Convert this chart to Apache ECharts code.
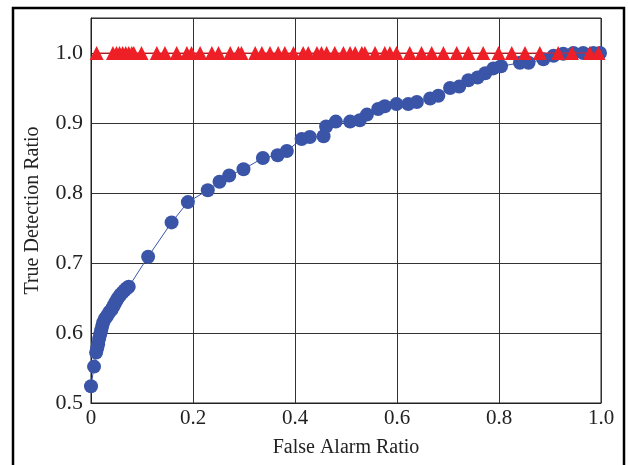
<!DOCTYPE html>
<html>
<head>
<meta charset="utf-8">
<script src="https://cdn.jsdelivr.net/npm/echarts@6/dist/echarts.min.js"></script>
<style>
  html, body { margin: 0; padding: 0; background: #fff; }
  #chart { width: 628px; height: 465px; }
</style>
</head>
<body>
<div id="chart"></div>
<script>
// blue curve: false alarm ratio / true detection ratio
var blueX = [0.000, 0.006, 0.010, 0.012, 0.014, 0.016, 0.018, 0.020, 0.022, 0.024, 0.027, 0.030,
  0.033, 0.036, 0.040, 0.043, 0.046, 0.049, 0.052, 0.055, 0.058, 0.062, 0.066, 0.070, 0.074,
  0.112, 0.158, 0.190, 0.229, 0.252, 0.271, 0.299, 0.337, 0.366, 0.384, 0.413, 0.429, 0.456,
  0.461, 0.480, 0.508, 0.527, 0.541, 0.563, 0.576, 0.599, 0.622, 0.639, 0.665, 0.681, 0.704,
  0.722, 0.740, 0.758, 0.773, 0.789, 0.804, 0.841, 0.858, 0.887, 0.907, 0.926, 0.946, 0.965,
  0.985, 0.998]
var blueY = [0.524, 0.552, 0.572, 0.578, 0.584, 0.592, 0.598, 0.604, 0.610, 0.615, 0.620, 0.623,
  0.626, 0.630, 0.633, 0.637, 0.641, 0.645, 0.649, 0.652, 0.655, 0.658, 0.661, 0.664, 0.666,
  0.709, 0.758, 0.787, 0.804, 0.816, 0.825, 0.834, 0.850, 0.854, 0.860, 0.877, 0.880, 0.881,
  0.895, 0.902, 0.902, 0.904, 0.912, 0.920, 0.924, 0.927, 0.927, 0.930, 0.935, 0.939, 0.950,
  0.952, 0.961, 0.965, 0.971, 0.978, 0.981, 0.986, 0.986, 0.991, 0.996, 0.999, 1.000, 1.000,
  1.000, 1.000]

// red triangles, all at 1.0
var redX = [0.011, 0.043, 0.050, 0.056, 0.062, 0.068, 0.074, 0.080, 0.084, 0.099, 0.129, 0.145,
  0.168, 0.188, 0.197, 0.214, 0.237, 0.250, 0.273, 0.289, 0.295, 0.322, 0.335, 0.351, 0.367,
  0.380, 0.397, 0.416, 0.426, 0.443, 0.452, 0.462, 0.478, 0.495, 0.508, 0.518, 0.531, 0.537,
  0.557, 0.576, 0.586, 0.599, 0.625, 0.648, 0.668, 0.691, 0.717, 0.740, 0.769, 0.799, 0.825,
  0.851, 0.880, 0.916, 0.943, 0.978, 0.995]
var redY = redX.map(function () { return 1.0 })

var xTicks = [0, 0.2, 0.4, 0.6, 0.8, 1.0]
var yTicks = [0.5, 0.6, 0.7, 0.8, 0.9, 1.0]

function pairs(xs, ys) {
  return xs.map(function (x, i) { return [x, ys[i]] })
}

var chart = echarts.init(document.getElementById('chart'))
var serif = 'Liberation Serif, Times New Roman, serif'

chart.setOption({
  animation: false,
  graphic: [{
    type: 'rect',
    shape: { x: 13, y: 8, width: 611, height: 470 },
    style: { fill: 'none', stroke: '#000', lineWidth: 2.5 },
    silent: true
  }],
  grid: {
    left: 91,
    right: 27,
    top: 18,
    bottom: 62,
    show: true,
    borderColor: '#222',
    borderWidth: 1
  },
  xAxis: {
    type: 'value',
    min: 0,
    max: 1,
    interval: 0.2,
    name: 'False Alarm Ratio',
    nameLocation: 'middle',
    nameGap: 35,
    nameTextStyle: { fontFamily: serif, fontSize: 20, color: '#222' },
    axisLine: { show: true, lineStyle: { color: '#222' } },
    axisTick: { show: false },
    axisLabel: {
      margin: 5,
      fontFamily: serif,
      fontSize: 21,
      color: '#222',
      formatter: function (v) {
        if (xTicks.indexOf(v) < 0) return ''
        return v === 0 ? '0' : v.toFixed(1)
      }
    },
    splitLine: { show: true, lineStyle: { color: '#333', width: 1 } }
  },
  yAxis: {
    type: 'value',
    min: 0.5,
    max: 1.05,
    interval: 0.1,
    name: 'True Detection Ratio',
    nameLocation: 'middle',
    nameGap: 48,
    nameTextStyle: { fontFamily: serif, fontSize: 20, color: '#222' },
    axisLine: { show: true, lineStyle: { color: '#222' } },
    axisTick: { show: false },
    axisLabel: {
      margin: 8,
      fontFamily: serif,
      fontSize: 22,
      color: '#222',
      formatter: function (v) {
        var r = Math.round(v * 10) / 10
        if (Math.abs(r - v) > 1e-6 || yTicks.indexOf(r) < 0) return ''
        return r.toFixed(1)
      }
    },
    splitLine: { show: true, lineStyle: { color: '#333', width: 1 } }
  },
  series: [{
    type: 'line',
    data: pairs(blueX, blueY),
    symbol: 'circle',
    symbolSize: 14,
    lineStyle: { color: '#3a55a8', width: 1 },
    itemStyle: { color: '#3a55a8' },
    z: 2
  }, {
    type: 'line',
    data: pairs(redX, redY),
    symbol: 'triangle',
    symbolSize: 14,
    lineStyle: { color: '#ee1f26', width: 1 },
    itemStyle: { color: '#ee1f26' },
    z: 3
  }]
})
</script>
</body>
</html>
